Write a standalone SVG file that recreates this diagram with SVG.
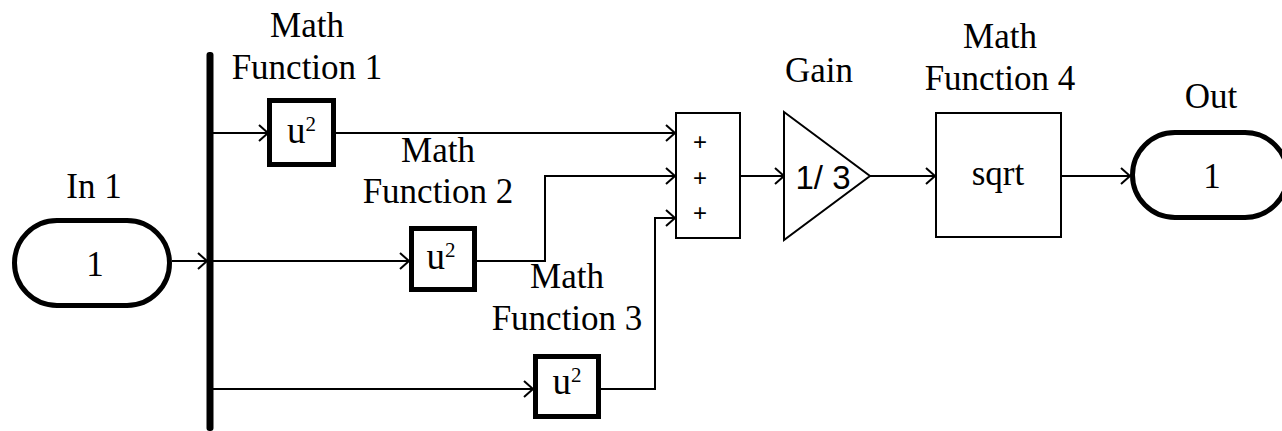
<svg xmlns="http://www.w3.org/2000/svg" width="1282" height="431" viewBox="0 0 1282 431">
<style>
.lbl{font-family:"Liberation Serif","Times New Roman",serif;font-size:35px;fill:#000;text-anchor:middle}
.u{font-size:37px}
.sup{font-size:21px}
.sans{font-family:"Liberation Sans",Arial,sans-serif;fill:#000;text-anchor:middle}
.thick{fill:#fff;stroke:#000;stroke-width:5}
.thin{fill:#fff;stroke:#000;stroke-width:2}
.wire{fill:none;stroke:#000;stroke-width:2;marker-end:url(#arr)}
</style>
<defs>
<marker id="arr" markerUnits="userSpaceOnUse" viewBox="-12 -10 14 20" markerWidth="14" markerHeight="20" refX="0" refY="0" orient="auto">
<path d="M-9,-8 L0,0 L-9,8" fill="none" stroke="#000" stroke-width="2"/>
</marker>
</defs>
<rect width="1282" height="431" fill="#fff"/>
<g id="connectors">
<path class="wire" d="M172,261 H207"/>
<path class="wire" d="M213,133 H268"/>
<path class="wire" d="M335,133 H675"/>
<path class="wire" d="M213,261 H409"/>
<path class="wire" d="M477,261 H545 V176 H675"/>
<path class="wire" d="M213,389 H533"/>
<path class="wire" d="M601,389 H655 V218 H675"/>
<path class="wire" d="M741,176 H784"/>
<path class="wire" d="M870,176 H935"/>
<path class="wire" d="M1061,176 H1130"/>
</g>
<g id="in1">
<rect class="thick" x="14.5" y="220.5" width="155" height="85" rx="42.5"/>
<text class="lbl" x="95" y="276">1</text>
<text class="lbl" x="94" y="198">In 1</text>
</g>
<g id="bus">
<rect x="206.5" y="52" width="7" height="379" fill="#000" rx="3"/>
</g>
<g id="mf1">
<rect class="thick" x="269.5" y="100.5" width="64" height="64"/>
<text class="lbl u" x="301.5" y="143">u<tspan class="sup" dy="-12">2</tspan></text>
<text class="lbl" x="307" y="37">Math</text>
<text class="lbl" x="307" y="79">Function 1</text>
</g>
<g id="mf2">
<rect class="thick" x="411.5" y="228.5" width="63" height="61"/>
<text class="lbl u" x="441" y="269">u<tspan class="sup" dy="-12">2</tspan></text>
<text class="lbl" x="438" y="162">Math</text>
<text class="lbl" x="438" y="203">Function 2</text>
</g>
<g id="mf3">
<rect class="thick" x="535.5" y="356.5" width="63" height="60"/>
<text class="lbl u" x="567" y="394">u<tspan class="sup" dy="-12">2</tspan></text>
<text class="lbl" x="567" y="288">Math</text>
<text class="lbl" x="567" y="330">Function 3</text>
</g>
<g id="sum">
<rect class="thin" x="676" y="113" width="64" height="125"/>
<text class="sans" x="700" y="150" font-size="24">+</text>
<text class="sans" x="700" y="185.5" font-size="24">+</text>
<text class="sans" x="700" y="221" font-size="24">+</text>
</g>
<g id="gain">
<polygon class="thin" points="784,112 870,176 784,240"/>
<text class="sans" x="823" y="189" font-size="33">1/ 3</text>
<text class="lbl" x="819" y="82">Gain</text>
</g>
<g id="mf4">
<rect class="thin" x="936" y="113" width="125" height="124"/>
<text class="lbl" x="998" y="185">sqrt</text>
<text class="lbl" x="1000" y="48">Math</text>
<text class="lbl" x="1000" y="90">Function 4</text>
</g>
<g id="out">
<rect class="thick" x="1132.5" y="132.5" width="155" height="85" rx="42.5"/>
<text class="lbl" x="1212" y="188">1</text>
<text class="lbl" x="1211" y="108">Out</text>
</g>
</svg>
